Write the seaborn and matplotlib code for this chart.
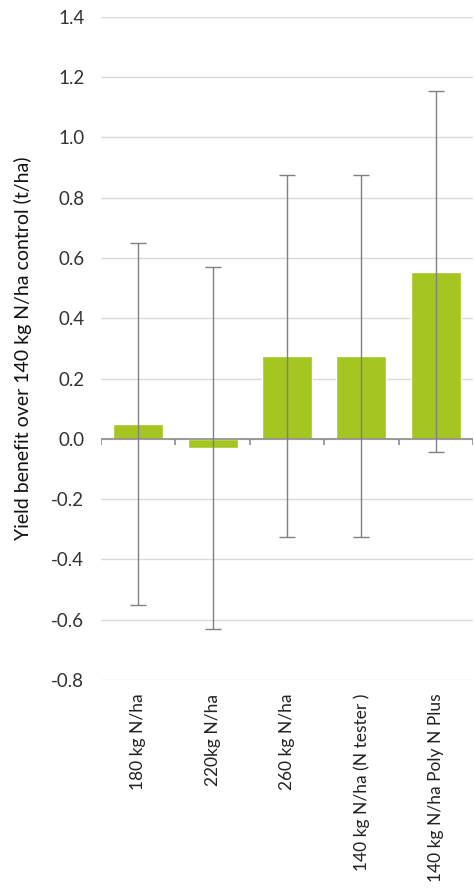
import matplotlib
matplotlib.use("Agg")
import matplotlib.pyplot as plt
import seaborn as sns
import pandas as pd

# Treatment yield response relative to the 140 kg N/ha control
treatments = ["180 kg N/ha", "220kg N/ha", "260 kg N/ha",
              "140 kg N/ha (N tester )", "140 kg N/ha Poly N Plus"]
benefit = [0.05, -0.03, 0.275, 0.275, 0.555]
error = [0.60, 0.60, 0.60, 0.60, 0.60]
y_ticks = [-0.8, -0.6, -0.4, -0.2, 0.0, 0.2, 0.4, 0.6, 0.8, 1.0, 1.2, 1.4]

sns.set_theme(style="white")
plt.rcParams["font.family"] = ["Lato", "DejaVu Sans"]
plt.rcParams["axes.unicode_minus"] = False

df = pd.DataFrame({"treatment": treatments, "benefit": benefit})

fig = plt.figure(figsize=(4.74, 8.92), dpi=100)
ax = fig.add_axes([0.213, 0.2377, 0.785, 0.7434])

sns.barplot(data=df, x="treatment", y="benefit", color="#a5c520",
            width=0.67, saturation=1, errorbar=None, ax=ax, zorder=2)

positions = list(range(len(treatments)))
ax.errorbar(positions, benefit, yerr=error, fmt="none", ecolor="#808080",
            elinewidth=1.0, capsize=6, capthick=1.0, zorder=3)

ax.set_ylim(-0.8, 1.4)
ax.set_xlim(-0.5, len(treatments) - 0.5)
ax.set_yticks(y_ticks)
ax.set_yticklabels([f"{t:.1f}" for t in y_ticks])
ax.yaxis.grid(True, color="#d9d9d9", linewidth=1.0)
ax.set_axisbelow(True)
for side in ["top", "right", "left", "bottom"]:
    ax.spines[side].set_visible(False)

# Category axis line at zero with boundary tick marks
ax.axhline(0, color="#8c8c8c", linewidth=1.2, zorder=2.5)
bounds = [p - 0.5 for p in positions] + [positions[-1] + 0.5]
ax.vlines(bounds, -0.02, 0, color="#8c8c8c", linewidth=1.2, zorder=2.5)

ax.tick_params(axis="y", length=0, labelsize=13.5, labelcolor="#333333", pad=12)
ax.tick_params(axis="x", length=0, labelsize=12.5, labelcolor="#222222", pad=10)
plt.setp(ax.get_xticklabels(), rotation=90, va="top", ha="center")

ax.set_xlabel("")
ax.set_ylabel("Yield benefit over 140 kg N/ha control (t/ha)",
              fontsize=14, color="#111111", labelpad=14)

fig.savefig("out.png", dpi=100)
